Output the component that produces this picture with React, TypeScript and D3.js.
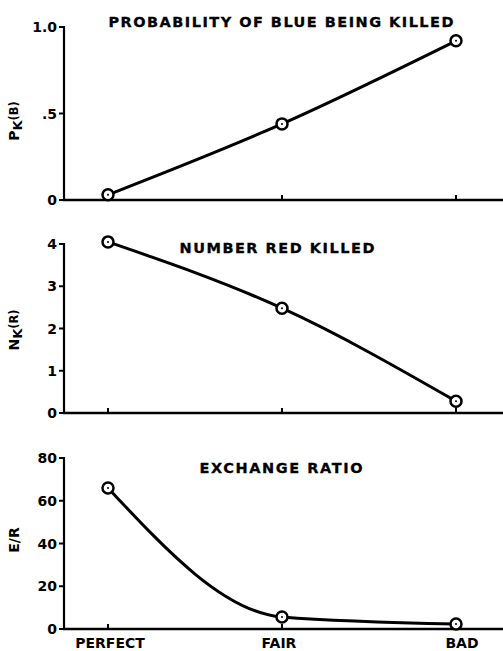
import React, { useEffect, useRef } from 'react';
import * as d3 from 'd3';

// categories along the bottom
const categories = ['PERFECT', 'FAIR', 'BAD'];

// series values
const probBlueKilled = [0.03, 0.44, 0.92];
const numberRedKilled = [4.05, 2.48, 0.28];
const exchangeRatio = [66, 5.6, 2.3];

// tick values for each panel
const probTicks = [0, 0.5, 1.0];
const probTickLabels = ['0', '.5', '1.0'];
const redTicks = [0, 1, 2, 3, 4];
const ratioTicks = [0, 20, 40, 60, 80];

const titles = ['PROBABILITY OF BLUE BEING KILLED', 'NUMBER RED KILLED', 'EXCHANGE RATIO'];

const W = 503;
const H = 651;
const FONT = '"DejaVu Sans", "Liberation Sans", sans-serif';

const App = () => {
  const svgRef = useRef(null);

  useEffect(() => {
    const svg = d3.select(svgRef.current);
    svg.selectAll('*').remove();

    const axisX = 64;
    const xScale = d3.scalePoint().domain(categories).range([108, 456]);

    const panels = [
      { values: probBlueKilled, max: 1, ticks: probTicks, fmt: (d, i) => probTickLabels[i], top: 27, bottom: 200, title: titles[0], titleX: 281, titleY: 27, titleW: 345, label: ['P', 'K', '(B)'], labelY: 121 },
      { values: numberRedKilled, max: 4, ticks: redTicks, fmt: (d) => String(d), top: 244, bottom: 413, title: titles[1], titleX: 277, titleY: 253, titleW: 195, label: ['N', 'K', '(R)'], labelY: 330 },
      { values: exchangeRatio, max: 80, ticks: ratioTicks, fmt: (d) => String(d), top: 458, bottom: 629, title: titles[2], titleX: 281, titleY: 473, titleW: 163, label: ['E/R', '', ''], labelY: 540 },
    ];

    svg.append('rect').attr('width', W).attr('height', H).attr('fill', 'white');

    panels.forEach((p) => {
      const yScale = d3.scaleLinear().domain([0, p.max]).range([p.bottom, p.top]);
      const g = svg.append('g');

      // axes
      g.append('line')
        .attr('x1', axisX).attr('x2', axisX)
        .attr('y1', p.top - 1).attr('y2', p.bottom + 1)
        .attr('stroke', 'black').attr('stroke-width', 2.2);
      g.append('line')
        .attr('x1', axisX - 1).attr('x2', W)
        .attr('y1', p.bottom).attr('y2', p.bottom)
        .attr('stroke', 'black').attr('stroke-width', 2.4);

      // y ticks + labels
      g.selectAll('line.ytick')
        .data(p.ticks)
        .enter()
        .append('line')
        .attr('class', 'ytick')
        .attr('x1', axisX - 5).attr('x2', axisX)
        .attr('y1', (d) => yScale(d)).attr('y2', (d) => yScale(d))
        .attr('stroke', 'black').attr('stroke-width', 2);
      g.selectAll('text.ytick')
        .data(p.ticks)
        .enter()
        .append('text')
        .attr('class', 'ytick')
        .attr('x', axisX - 7)
        .attr('y', (d) => yScale(d))
        .attr('dy', '0.36em')
        .attr('text-anchor', 'end')
        .attr('font-family', FONT)
        .attr('font-weight', 'bold')
        .attr('font-size', 14)
        .text((d, i) => p.fmt(d, i));

      // x ticks
      g.selectAll('line.xtick')
        .data(categories)
        .enter()
        .append('line')
        .attr('class', 'xtick')
        .attr('x1', (d) => xScale(d)).attr('x2', (d) => xScale(d))
        .attr('y1', p.bottom - 5).attr('y2', p.bottom)
        .attr('stroke', 'black').attr('stroke-width', 2);

      // title
      g.append('text')
        .attr('x', p.titleX)
        .attr('y', p.titleY)
        .attr('text-anchor', 'middle')
        .attr('font-family', FONT)
        .attr('font-weight', 'bold')
        .attr('font-size', 14.5)
        .attr('stroke', 'black')
        .attr('stroke-width', 0.3)
        .attr('textLength', p.titleW)
        .attr('lengthAdjust', 'spacing')
        .text(p.title);

      // rotated y label with subscript
      const lab = g.append('text')
        .attr('transform', `translate(19, ${p.labelY}) rotate(-90)`)
        .attr('text-anchor', 'middle')
        .attr('font-family', FONT)
        .attr('font-weight', 'bold')
        .attr('font-size', 14);
      lab.append('tspan').text(p.label[0]);
      if (p.label[1]) {
        lab.append('tspan').attr('font-size', 13).attr('dy', 3).text(p.label[1]);
        lab.append('tspan').attr('font-size', 11.5).attr('dy', -4).text(p.label[2]);
      }

      // curve
      const line = d3.line()
        .x((d, i) => xScale(categories[i]))
        .y((d) => yScale(d))
        .curve(d3.curveMonotoneX);
      g.append('path')
        .datum(p.values)
        .attr('d', line)
        .attr('fill', 'none')
        .attr('stroke', 'black')
        .attr('stroke-width', 3);

      // markers
      g.selectAll('circle.pt')
        .data(p.values)
        .enter()
        .append('circle')
        .attr('class', 'pt')
        .attr('cx', (d, i) => xScale(categories[i]))
        .attr('cy', (d) => yScale(d))
        .attr('r', 5.5)
        .attr('fill', 'white')
        .attr('stroke', 'black')
        .attr('stroke-width', 2.5);
      g.selectAll('circle.dot')
        .data(p.values)
        .enter()
        .append('circle')
        .attr('class', 'dot')
        .attr('cx', (d, i) => xScale(categories[i]))
        .attr('cy', (d) => yScale(d))
        .attr('r', 1)
        .attr('fill', 'black');
    });

    // category labels under the last panel
    svg.selectAll('text.cat')
      .data(categories)
      .enter()
      .append('text')
      .attr('class', 'cat')
      .attr('x', (d) => xScale(d) + (d === 'BAD' ? 6 : d === 'FAIR' ? -3 : 2))
      .attr('y', 648)
      .attr('text-anchor', 'middle')
      .attr('font-family', FONT)
      .attr('font-weight', 'bold')
      .attr('font-size', 14)
      .text((d) => d);
  }, []);

  return (
    <svg ref={svgRef} width={W} height={H} style={{ position: 'absolute', left: 0, top: 0 }}></svg>
  );
};

export default App;
